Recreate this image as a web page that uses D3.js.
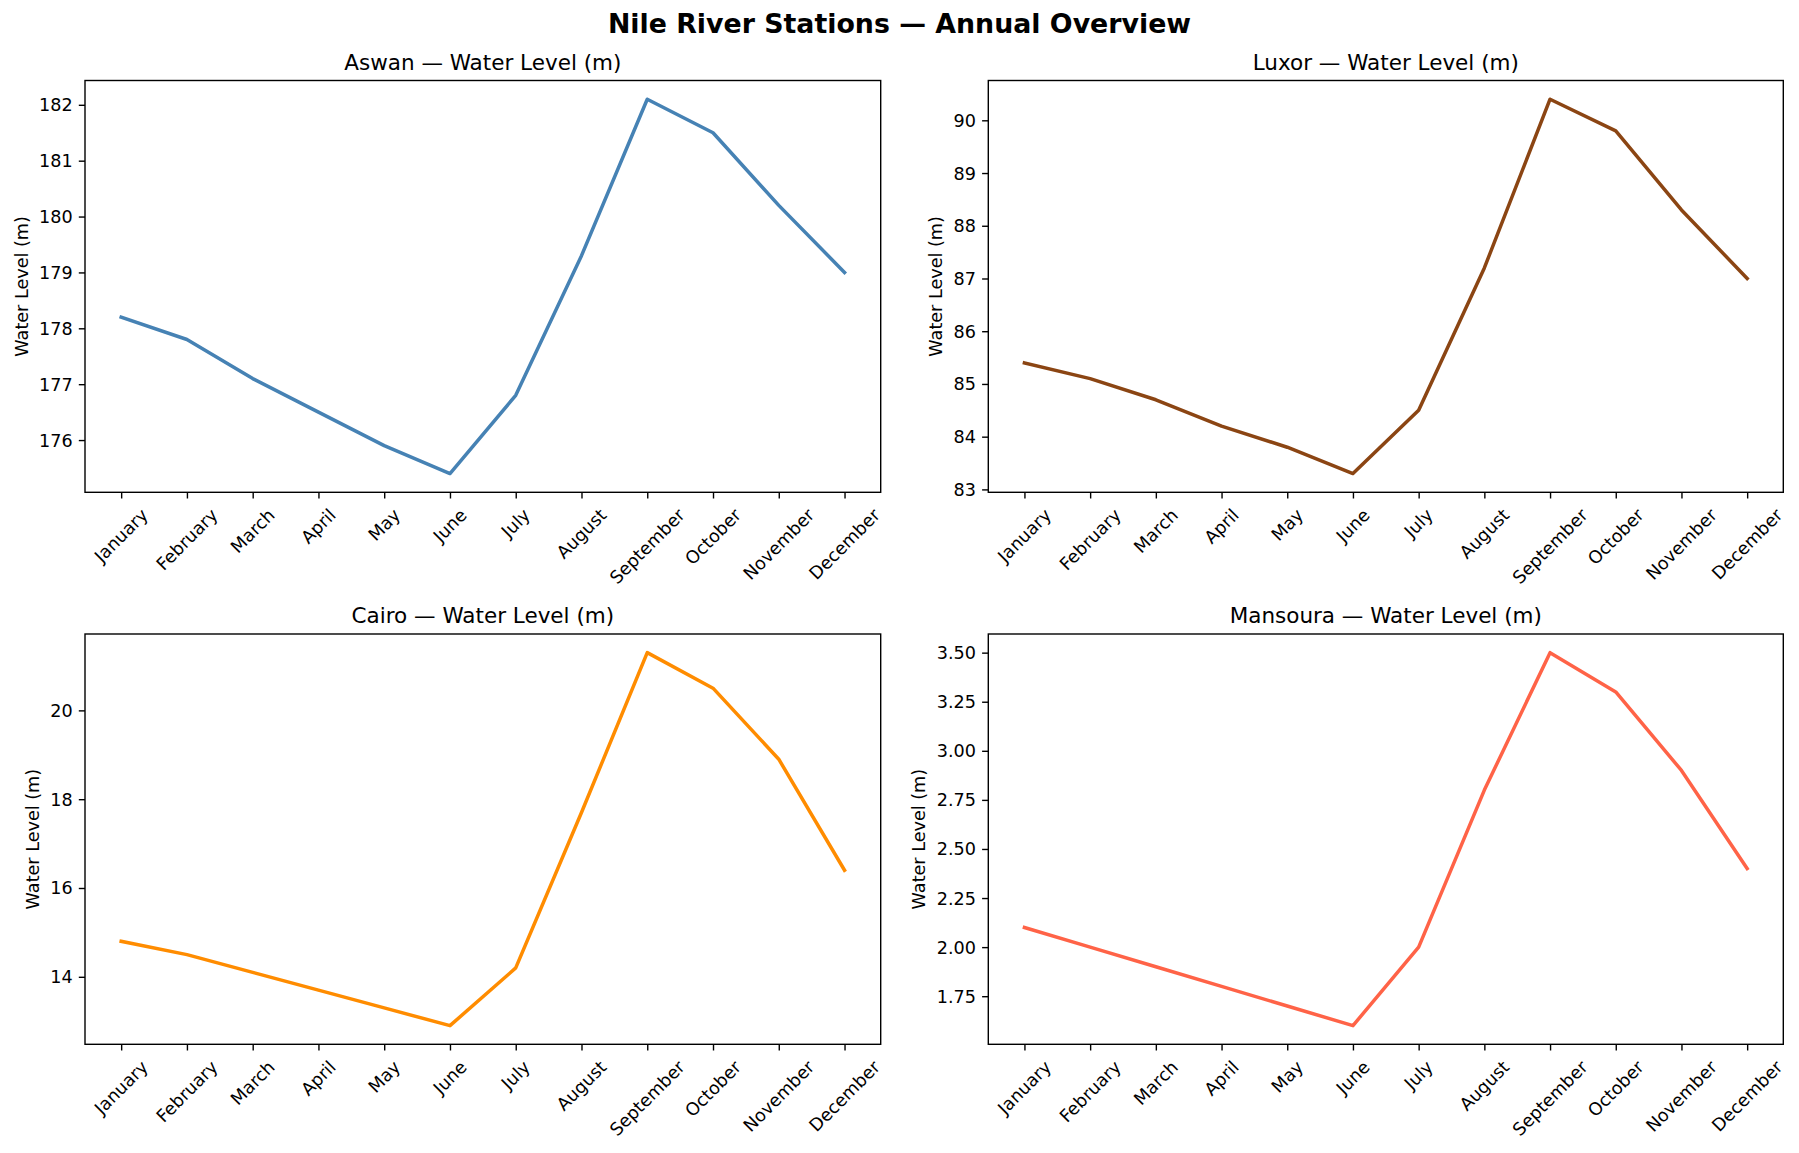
<!DOCTYPE html>
<html><head><meta charset="utf-8">
<script src="https://cdn.jsdelivr.net/npm/d3@7"></script>
<style>
body{margin:0;background:#fff}
svg{display:block}
text{font-family:"DejaVu Sans",sans-serif;fill:#000}
</style>
</head><body>
<svg id="c" width="1799" height="1153"></svg>
<script>
// ---- data ----
const months = ["January","February","March","April","May","June","July","August","September","October","November","December"];
const stations = ["Aswan","Luxor","Cairo","Mansoura"];
const aswanLevels    = [178.2,177.8,177.1,176.5,175.9,175.4,176.8,179.3,182.1,181.5,180.2,179.0];
const luxorLevels    = [85.4,85.1,84.7,84.2,83.8,83.3,84.5,87.2,90.4,89.8,88.3,87.0];
const cairoLevels    = [14.8,14.5,14.1,13.7,13.3,12.9,14.2,17.7,21.3,20.5,18.9,16.4];
const mansouraLevels = [2.1,2.0,1.9,1.8,1.7,1.6,2.0,2.8,3.5,3.3,2.9,2.4];
const aswanTicks    = [176,177,178,179,180,181,182];
const luxorTicks    = [83,84,85,86,87,88,89,90];
const cairoTicks    = [14,16,18,20];
const mansouraTicks = [1.75,2.00,2.25,2.50,2.75,3.00,3.25,3.50];
const suptitle = "Nile River Stations — Annual Overview";
const yLabel = "Water Level (m)";

// ---- layout / style ----
const fsTick = 17.6, fsTitle = 21.5, fsSup = 26.8;
const tickLen = 6.2, tickPad = 6.2, lw = 3.5, spineW = 1.4;
const layout = [
  {values: aswanLevels,    ticks: aswanTicks,    fmt: d3.format("d"),   color: "#4682B4", box: [85, 80.5, 880.7, 492.3]},
  {values: luxorLevels,    ticks: luxorTicks,    fmt: d3.format("d"),   color: "#8B4513", box: [988.3, 80.5, 1783.3, 492.3]},
  {values: cairoLevels,    ticks: cairoTicks,    fmt: d3.format("d"),   color: "#FF8C00", box: [85, 634, 880.7, 1044.3]},
  {values: mansouraLevels, ticks: mansouraTicks, fmt: d3.format(".2f"), color: "#FF6347", box: [988.3, 634, 1783.3, 1044.3]}
];

const svg = d3.select("#c");
svg.append("rect").attr("width",1799).attr("height",1153).attr("fill","#fff");

svg.append("text").attr("x", 899.5).attr("y", 33.3).attr("text-anchor","middle")
  .attr("font-size", fsSup).attr("font-weight","bold").text(suptitle);

layout.forEach((p, i) => {
  const [x0, y0, x1, y1] = p.box;
  const idx = months.map((m, k) => k);
  const x = d3.scaleLinear().domain([-0.55, months.length - 1 + 0.55]).range([x0, x1]);
  const [mn, mx] = d3.extent(p.values);
  const m = (mx - mn) * 0.05;
  const y = d3.scaleLinear().domain([mn - m, mx + m]).range([y1, y0]);
  const g = svg.append("g");

  // title
  g.append("text").attr("x", (x0 + x1) / 2).attr("y", y0 - 10.7).attr("text-anchor","middle")
    .attr("font-size", fsTitle).text(stations[i] + " — " + yLabel);

  // line
  const line = d3.line().x((d, k) => x(k)).y(d => y(d));
  g.append("path").datum(p.values).attr("d", line).attr("fill","none")
    .attr("stroke", p.color).attr("stroke-width", lw).attr("stroke-linejoin","round").attr("stroke-linecap","square");

  // y axis
  const ya = g.append("g").attr("transform", `translate(${x0},0)`)
    .call(d3.axisLeft(y).tickValues(p.ticks).tickFormat(p.fmt).tickSize(tickLen).tickPadding(tickPad));
  ya.select(".domain").remove();
  ya.selectAll(".tick line").attr("stroke","#000").attr("stroke-width", spineW);
  ya.selectAll(".tick text").attr("font-size", fsTick).attr("font-family","DejaVu Sans").attr("fill","#000").attr("dy","0.34em");

  // x axis
  const xa = g.append("g").attr("transform", `translate(0,${y1})`)
    .call(d3.axisBottom(x).tickValues(idx).tickFormat("").tickSize(tickLen));
  xa.select(".domain").remove();
  xa.selectAll(".tick line").attr("stroke","#000").attr("stroke-width", spineW);
  const top = y1 + tickLen + tickPad;
  const h = fsTick * 1.164;
  months.forEach((mo, k) => {
    const t = g.append("text").attr("font-size", fsTick).attr("text-anchor","middle").text(mo);
    const w = t.node().getComputedTextLength();
    const H = (w + h) / Math.SQRT2;
    const cx = x(k), cy = top + H / 2;
    t.attr("transform", `translate(${cx},${cy}) rotate(-45)`).attr("x", 0).attr("y", 0.346 * fsTick);
  });

  // frame
  g.append("rect").attr("x", x0).attr("y", y0).attr("width", x1 - x0).attr("height", y1 - y0)
    .attr("fill","none").attr("stroke","#000").attr("stroke-width", spineW);

  // y label
  const bb = ya.node().getBBox();
  const lx = x0 + bb.x - 7.1 - 0.236 * fsTick;
  const ly = (y0 + y1) / 2;
  g.append("text").attr("transform", `translate(${lx},${ly}) rotate(-90)`).attr("text-anchor","middle")
    .attr("font-size", fsTick).text(yLabel);
});
</script>
</body></html>
